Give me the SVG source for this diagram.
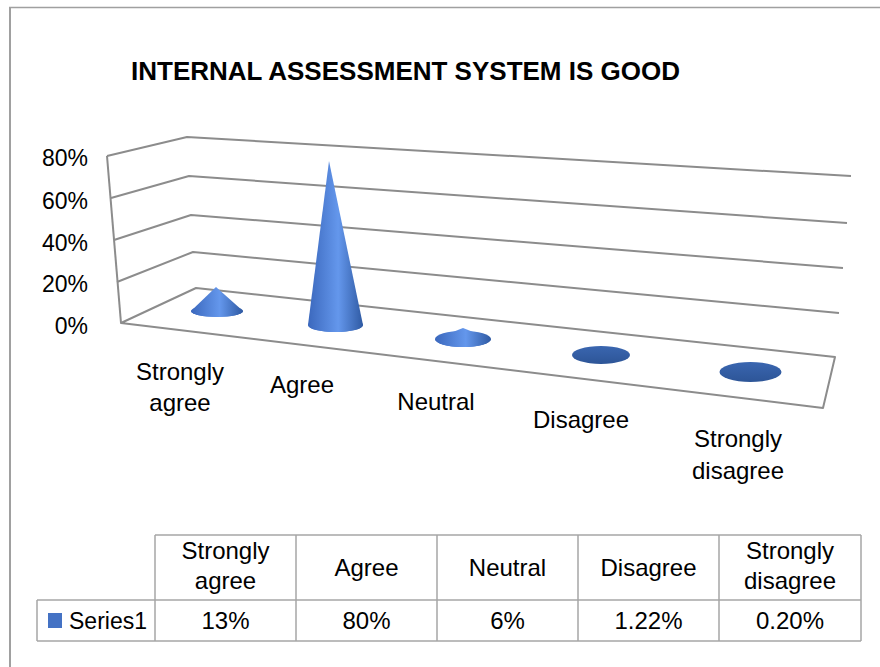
<svg xmlns="http://www.w3.org/2000/svg" width="880" height="667" viewBox="0 0 880 667">
<style>
text{font-family:"Liberation Sans",Arial,sans-serif;fill:#000;}
.t{font-size:24px;text-anchor:middle;}
.ax{font-size:23px;text-anchor:end;}
.grid{stroke:#8c8c8c;stroke-width:2;fill:none;stroke-linejoin:round;}
.tbl{stroke:#a6a6a6;stroke-width:1.5;fill:none;}
.frame{stroke:#a0a0a0;fill:none;}
</style>
<defs>
<linearGradient id="cone" x1="0" y1="0" x2="1" y2="0">
<stop offset="0" stop-color="#3b68bd"/>
<stop offset="0.55" stop-color="#6497ec"/>
<stop offset="1" stop-color="#2f5aa3"/>
</linearGradient>
<linearGradient id="flat" x1="0" y1="0" x2="0" y2="1">
<stop offset="0" stop-color="#3a66b0"/>
<stop offset="1" stop-color="#2d5597"/>
</linearGradient>
</defs>
<rect width="880" height="667" fill="#fff"/>
<g id="frame">
<line class="frame" x1="9" y1="7.5" x2="880" y2="7.5" stroke-width="1.5"/>
<line class="frame" x1="10" y1="7" x2="10" y2="667" stroke-width="2"/>
</g>
<g id="title"><text x="131" y="80" font-size="25" font-weight="bold" textLength="549" lengthAdjust="spacingAndGlyphs">INTERNAL ASSESSMENT SYSTEM IS GOOD</text></g>
<g id="axes">
<polyline class="grid" points="107,156 187,137 851,176"/>
<polyline class="grid" points="111,198 189,176 847,223"/>
<polyline class="grid" points="114,240 191,215 843,268"/>
<polyline class="grid" points="117,282 193,252 839,313"/>
<line class="grid" x1="107" y1="156" x2="121" y2="323"/>
<polygon class="grid" points="121,323 196,288 835,357 823,408"/>
</g>
<g id="axis-labels">
<text class="ax" x="88" y="166">80%</text>
<text class="ax" x="88" y="209">60%</text>
<text class="ax" x="88" y="251">40%</text>
<text class="ax" x="88" y="292">20%</text>
<text class="ax" x="88" y="334">0%</text>
</g>
<g id="cone-strongly-agree">
<ellipse cx="217" cy="311" rx="26" ry="6" fill="url(#cone)"/>
<path d="M191,311 L216,287 L243,311 A26,6 0 0 1 191,311 Z" fill="url(#cone)"/>
</g>
<g id="cone-agree">
<ellipse cx="335.5" cy="325" rx="27.5" ry="7" fill="url(#cone)"/>
<path d="M308,325 L329,161 L363,325 A27.5,7 0 0 1 308,325 Z" fill="url(#cone)"/>
</g>
<g id="cone-neutral">
<ellipse cx="463" cy="339" rx="28" ry="8" fill="url(#cone)"/>
<path d="M435,339 L463,328 L491,339 A28,8 0 0 1 435,339 Z" fill="url(#cone)"/>
</g>
<g id="cone-disagree"><ellipse cx="601" cy="355" rx="29" ry="9" fill="url(#flat)"/></g>
<g id="cone-strongly-disagree"><ellipse cx="750.5" cy="372" rx="31" ry="10" fill="url(#flat)"/></g>
<g id="category-labels">
<text class="t" x="180" y="380">Strongly</text>
<text class="t" x="180" y="411">agree</text>
<text class="t" x="302" y="393">Agree</text>
<text class="t" x="436" y="410">Neutral</text>
<text class="t" x="581" y="428">Disagree</text>
<text class="t" x="738" y="447">Strongly</text>
<text class="t" x="738" y="479">disagree</text>
</g>
<g id="data-table">
<path class="tbl" d="M155,535 H861 M37,600 H861 M37,641 H861 M37,600 V641 M155,535 V641 M296,535 V641 M437,535 V641 M578,535 V641 M719,535 V641 M861,535 V641"/>
<text class="t" x="225.5" y="559">Strongly</text>
<text class="t" x="225.5" y="589">agree</text>
<text class="t" x="366.5" y="576">Agree</text>
<text class="t" x="507.5" y="576">Neutral</text>
<text class="t" x="648.5" y="576">Disagree</text>
<text class="t" x="790" y="559">Strongly</text>
<text class="t" x="790" y="589">disagree</text>
<rect x="48" y="613" width="14" height="15" fill="#4472c4"/>
<text x="69" y="629" font-size="23">Series1</text>
<text class="t" x="225.5" y="629">13%</text>
<text class="t" x="366.5" y="629">80%</text>
<text class="t" x="507.5" y="629">6%</text>
<text class="t" x="648.5" y="629">1.22%</text>
<text class="t" x="790" y="629">0.20%</text>
</g>
</svg>
